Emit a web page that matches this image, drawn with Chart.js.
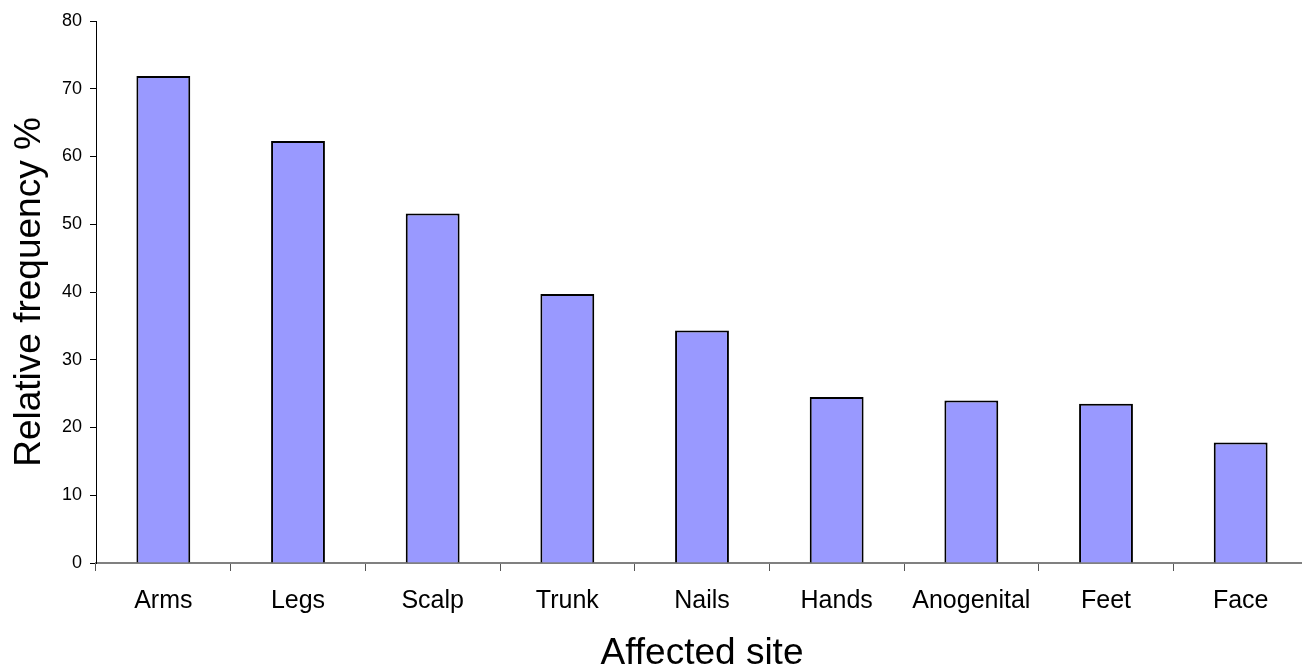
<!DOCTYPE html>
<html>
<head>
<meta charset="utf-8">
<script src="https://cdn.jsdelivr.net/npm/chart.js@4/dist/chart.umd.min.js"></script>
<style>
  html, body { margin: 0; padding: 0; background: #fff; overflow: hidden; }
  #wrap { width: 1308px; height: 676px; }
</style>
</head>
<body>
<div id="wrap"><canvas id="chart" width="1308" height="676"></canvas></div>
<script>
// Share of patients with lesions at each body site
const sites = ['Arms', 'Legs', 'Scalp', 'Trunk', 'Nails', 'Hands', 'Anogenital', 'Feet', 'Face'];
const frequency = [71.9, 62.3, 51.6, 39.7, 34.3, 24.5, 24.0, 23.5, 17.8];
const yMin = 0;
const yMax = 80;
const yStep = 10;
const xTitle = 'Affected site';
const yTitle = 'Relative frequency %';

const FONT = '"Liberation Sans", Arial, Helvetica, sans-serif';

new Chart(document.getElementById('chart'), {
  type: 'bar',
  data: {
    labels: sites,
    datasets: [{
      data: frequency,
      backgroundColor: '#9999FF',
      borderColor: '#000000',
      borderWidth: 2,
      barPercentage: 0.4,
      categoryPercentage: 1.0
    }]
  },
  options: {
    responsive: false,
    devicePixelRatio: 1,
    animation: false,
    layout: { padding: { top: 21, left: 0, right: 0, bottom: 0 } },
    plugins: {
      legend: { display: false },
      tooltip: { enabled: false },
      title: { display: false }
    },
    scales: {
      x: {
        afterFit(scale) { scale.height = 113; },
        grid: {
          drawOnChartArea: false,
          drawTicks: true,
          tickLength: 8,
          color: '#555555',
          offset: true
        },
        border: { display: true, color: '#808080', width: 2 },
        ticks: {
          color: '#000',
          padding: 15,
          maxRotation: 0,
          autoSkip: false,
          font: { family: FONT, size: 25 }
        },
        title: {
          display: true,
          text: xTitle,
          color: '#000',
          padding: { top: 0, bottom: 0 },
          font: { family: FONT, size: 37 }
        }
      },
      y: {
        min: yMin,
        max: yMax,
        afterFit(scale) { scale.width = 96; },
        grid: {
          drawOnChartArea: false,
          drawTicks: true,
          tickLength: 6,
          color: '#000'
        },
        border: { display: true, color: '#000', width: 1 },
        ticks: {
          stepSize: yStep,
          color: '#000',
          padding: 8,
          font: { family: FONT, size: 18 }
        },
        title: {
          display: true,
          text: yTitle,
          color: '#000',
          padding: { top: 8, bottom: 0 },
          font: { family: FONT, size: 37 }
        }
      }
    }
  }
});
</script>
</body>
</html>
